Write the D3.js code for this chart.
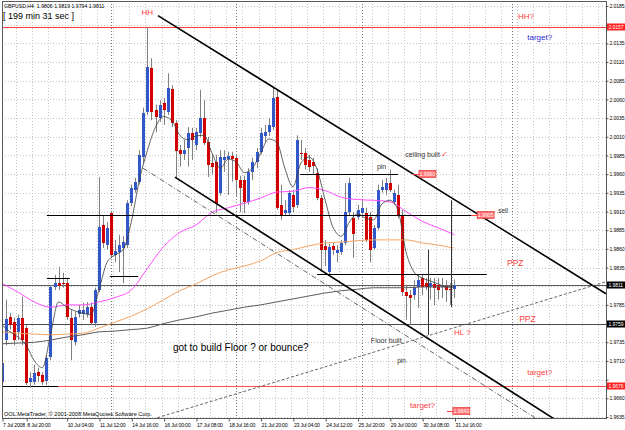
<!DOCTYPE html>
<html lang="en">
<head>
<meta charset="utf-8">
<title>GBPUSD,H4</title>
<script src="https://d3js.org/d3.v7.min.js"></script>
<style>
  body { margin: 0; background: #fff; }
  svg { display: block; font-family: "Liberation Sans", Arial, sans-serif; }
</style>
</head>
<body>
<svg id="chart"></svg>
<script>
// H4 bars, oldest first
const opens = [1.9681,1.9738,1.9769,1.9762,1.9749,1.9768,1.9754,1.9681,1.9682,1.9695,1.9691,1.9683,1.9715,1.9809,1.9814,1.9814,1.9814,1.9768,1.9735,1.9772,
  1.9773,1.9772,1.9782,1.9761,1.9805,1.9892,1.9865,1.9908,1.9852,1.9855,1.9861,1.9865,1.9921,1.9939,1.9950,1.9983,2.0043,2.0102,2.0046,2.0035,
  2.0055,2.0043,2.0074,2.0028,1.9992,1.9986,1.9995,2.0015,1.9999,2.0015,2.0035,2.0003,1.9975,1.9976,1.9935,1.9979,1.9980,1.9984,1.9982,1.9952,
  1.9952,1.9923,1.9963,1.9976,1.9990,2.0010,2.0016,2.0023,2.0063,1.9919,1.9908,1.9908,1.9932,1.9919,1.9988,1.9988,1.9979,1.9976,1.9962,1.9928,
  1.9864,1.9829,1.9864,1.9855,1.9856,1.9868,1.9909,1.9901,1.9903,1.9908,1.9908,1.9903,1.9861,1.9888,1.9939,1.9939,1.9948,1.9923,1.9932,1.9905,
  1.9802,1.9798,1.9798,1.9809,1.9821,1.9814,1.9809,1.9813,1.9812,1.9808,1.9810,1.9806,1.9806];
const highs = [1.9711,1.9792,1.9774,1.9768,1.9772,1.9796,1.9758,1.9695,1.9705,1.9701,1.9695,1.9718,1.9812,1.9825,1.9836,1.9828,1.9821,1.9778,1.9776,1.9785,
  1.9788,1.9789,1.9788,1.9808,1.9956,1.9905,1.9896,1.9909,1.9872,1.9879,1.9877,1.9925,1.9946,1.9955,1.9992,2.0049,2.0157,2.0115,2.0053,2.0059,
  2.0062,2.0095,2.0079,2.0032,1.9999,2.0006,2.0023,2.0022,2.0022,2.0073,2.0059,2.0010,1.9986,1.9986,1.9992,1.9992,1.9990,1.9990,1.9986,1.9958,
  1.9958,1.9968,1.9982,1.9995,2.0022,2.0026,2.0035,2.0077,2.0073,1.9946,1.9925,1.9939,1.9939,2.0012,2.0006,1.9995,1.9986,1.9982,1.9968,1.9932,
  1.9872,1.9867,1.9868,1.9865,1.9872,1.9948,1.9955,1.9909,1.9919,1.9925,1.9915,1.9909,1.9892,1.9946,1.9952,1.9955,1.9966,1.9939,1.9946,1.9912,
  1.9812,1.9805,1.9818,1.9825,1.9825,1.9821,1.9821,1.9821,1.9821,1.9821,1.9818,1.9814,1.9819];
const lows = [1.9678,1.9731,1.9752,1.9731,1.9738,1.9731,1.9678,1.9674,1.9678,1.9682,1.9678,1.9678,1.9711,1.9805,1.9805,1.9808,1.9765,1.9711,1.9731,1.9768,
  1.9765,1.9768,1.9758,1.9756,1.9802,1.9861,1.9859,1.9848,1.9842,1.9829,1.9814,1.9861,1.9917,1.9935,1.9946,1.9975,2.0039,2.0032,2.0016,2.0030,
  2.0026,2.0039,2.0023,1.9955,1.9970,1.9979,1.9970,1.9979,1.9992,2.0010,1.9999,1.9956,1.9959,1.9908,1.9931,1.9963,1.9932,1.9950,1.9931,1.9909,
  1.9908,1.9919,1.9952,1.9968,1.9986,2.0003,2.0011,2.0019,1.9912,1.9899,1.9905,1.9905,1.9909,1.9915,1.9979,1.9966,1.9963,1.9959,1.9925,1.9829,
  1.9837,1.9826,1.9852,1.9842,1.9852,1.9865,1.9905,1.9848,1.9899,1.9905,1.9869,1.9842,1.9859,1.9885,1.9935,1.9932,1.9936,1.9919,1.9901,1.9797,
  1.9765,1.9758,1.9792,1.9781,1.9798,1.9805,1.9792,1.9785,1.9792,1.9794,1.9789,1.9785,1.9794];
const closes = [1.9707,1.9766,1.9758,1.9738,1.9768,1.9738,1.9681,1.9687,1.9694,1.9689,1.9681,1.9714,1.9809,1.9814,1.9810,1.9812,1.9768,1.9738,1.9769,1.9778,
  1.9778,1.9782,1.9761,1.9805,1.9889,1.9868,1.9888,1.9852,1.9857,1.9865,1.9869,1.9921,1.9941,1.9950,1.9986,2.0042,2.0103,2.0043,2.0037,2.0053,
  2.0046,2.0075,2.0028,1.9990,1.9986,1.9992,2.0015,2.0006,2.0016,2.0035,2.0002,1.9972,1.9970,1.9920,1.9983,1.9983,1.9984,1.9980,1.9952,1.9941,
  1.9923,1.9963,1.9976,1.9990,2.0015,2.0016,2.0026,2.0062,1.9915,1.9905,1.9912,1.9935,1.9916,2.0006,1.9986,1.9972,1.9970,1.9970,1.9928,1.9859,
  1.9859,1.9863,1.9859,1.9859,1.9868,1.9909,1.9948,1.9879,1.9912,1.9915,1.9872,1.9859,1.9888,1.9939,1.9943,1.9948,1.9939,1.9935,1.9905,1.9802,
  1.9796,1.9794,1.9809,1.9818,1.9809,1.9809,1.9814,1.9808,1.9805,1.9810,1.9804,1.9805,1.9811];

// moving averages, sampled along the bars
const fastMA = [1.9758,1.9749,1.9742,1.9731,1.9710,1.9701,1.9745,1.9789,1.9782,1.9777,1.9774,1.9772,1.9805,1.9842,1.9852,1.9859,1.9896,1.9952,1.9992,
  2.0023,2.0037,2.0032,2.0012,2.0006,2.0011,2.0012,1.9988,1.9968,1.9980,1.9976,1.9962,1.9968,1.9988,2.0007,2.0003,1.9968,1.9943,1.9975,1.9983,
  1.9966,1.9925,1.9888,1.9877,1.9896,1.9907,1.9901,1.9899,1.9920,1.9925,1.9912,1.9856,1.9829,1.9821,1.9817,1.9813,1.9809,1.9809]; // every 2 bars
const ma50 = [1.9814,1.9802,1.9789,1.9782,1.9785,1.9785,1.9789,1.9795,1.9805,1.9834,1.9863,1.9882,1.9892,1.9909,1.9915,1.9921,1.9928,1.9936,1.9937,
  1.9942,1.9938,1.9929,1.9926,1.9925,1.9923,1.9910,1.9897,1.9888,1.9879]; // every 4 bars
const ma100 = [1.9749,1.9747,1.9746,1.9745,1.9746,1.9747,1.9754,1.9762,1.9770,1.9780,1.9792,1.9804,1.9813,1.9824,1.9832,1.9837,1.9844,1.9855,1.9859,
  1.9864,1.9868,1.9869,1.9871,1.9872,1.9872,1.9872,1.9868,1.9865,1.9861];
const ma200 = [1.9733,1.9734,1.9735,1.9738,1.9742,1.9745,1.9749,1.9750,1.9752,1.9754,1.9760,1.9765,1.9769,1.9774,1.9778,1.9782,1.9785,1.9789,1.9793,
  1.9797,1.9801,1.9804,1.9806,1.9808,1.9808,1.9808,1.9809,1.9809,1.9809];

const timeTickBars = [0, 6, 16, 24, 32, 40, 48, 56, 64, 72, 80, 88, 96, 104, 112];
const timeTickLabels = ['7 Jul 2008', '8 Jul 20:00', '10 Jul 04:00', '11 Jul 12:00', '14 Jul 16:00', '16 Jul 00:00', '17 Jul 08:00',
  '18 Jul 16:00', '21 Jul 20:00', '23 Jul 04:00', '24 Jul 12:00', '25 Jul 20:00', '29 Jul 00:00', '30 Jul 08:00', '31 Jul 16:00'];
const priceTicks = [2.0185, 2.0160, 2.0135, 2.0110, 2.0085, 2.0060, 2.0035, 2.0010, 1.9985, 1.9960, 1.9935, 1.9910,
  1.9885, 1.9860, 1.9835, 1.9810, 1.9785, 1.9760, 1.9735, 1.9710, 1.9685, 1.9660, 1.9635];
const weekStarts = [27, 58, 89, 126.25];

// drawn objects: horizontal levels [price, first bar, last bar]
const hhLevel = 2.0157;
const bidLevel = 1.9811;
const floorLevel = 1.9759;
const lowLevel = 1.9676;
const sellLevel = [1.9905, 11.1, 116.3];
const pinTopLevel = [1.9960, 73.8, 98];
const boxBottomLevel = [1.9826, 78, 120];
const shortLevels = [[1.9821, 11.1, 16.8], [1.9824, 26.7, 33.7]];
// trend lines [bar, price] -> [bar, price]
const upperChannel = [[38.6, 2.0172], [149.5, 1.9800]];
const lowerChannel = [[42.8, 1.9956], [140, 1.9621]];
const dashDotChannel = [[34.9, 1.9968], [136, 1.9620]];
const risingLine = [[38.4, 1.9634], [149.5, 1.9816]];
const markers = [[105.4, 1.9859, 1.9745], [111.1, 1.9925, 1.9782]];

const width = 625, height = 430;
const plotLeft = 2, plotRight = 606, plotTop = 1, plotBottom = 418;
const axisFont = '"Liberation Sans", Arial, sans-serif';

const svg = d3.select('#chart').attr('width', width).attr('height', height);

const x = d3.scaleLinear().domain([0, 149.5]).range([plotLeft, plotRight]);
const y = d3.scaleLinear().domain([1.96337, 2.0193]).range([plotBottom, 0]);
const px = v => Math.round(v) + 0.5;
const fmt = d3.format('.4f');

svg.append('defs').append('clipPath').attr('id', 'plot-clip')
  .append('rect')
  .attr('x', plotLeft).attr('y', plotTop)
  .attr('width', plotRight - plotLeft).attr('height', plotBottom - plotTop);

const plot = svg.append('g').attr('clip-path', 'url(#plot-clip)');

// grid
plot.append('g').selectAll('line')
  .data(priceTicks)
  .join('line')
  .attr('x1', plotLeft).attr('x2', plotRight)
  .attr('y1', d => px(y(d))).attr('y2', d => px(y(d)))
  .attr('stroke', '#c4c4c4').attr('stroke-dasharray', '1,2');

plot.append('g').selectAll('line')
  .data(d3.range(-0.5, 150, 4))
  .join('line')
  .attr('x1', d => px(x(d))).attr('x2', d => px(x(d)))
  .attr('y1', plotTop).attr('y2', plotBottom)
  .attr('stroke', '#c4c4c4').attr('stroke-dasharray', '1,2');

plot.append('g').selectAll('line')
  .data(weekStarts)
  .join('line')
  .attr('x1', d => px(x(d))).attr('x2', d => px(x(d)))
  .attr('y1', plotTop).attr('y2', plotBottom)
  .attr('stroke', '#777').attr('stroke-dasharray', '1,2');

// full width levels
const fullLevel = (p, color, from) => plot.append('line')
  .attr('x1', from === undefined ? plotLeft : x(from)).attr('x2', plotRight)
  .attr('y1', px(y(p))).attr('y2', px(y(p)))
  .attr('stroke', color);

fullLevel(hhLevel, '#ff3b3b');
fullLevel(bidLevel, '#5a5a5a');
fullLevel(floorLevel, '#4a4a4a');
fullLevel(lowLevel, '#ff4d4d', 13.9);
plot.append('line')
  .attr('x1', plotLeft).attr('x2', x(13.9))
  .attr('y1', px(y(lowLevel))).attr('y2', px(y(lowLevel)))
  .attr('stroke', '#000');

// candles
const bars = opens.map((o, i) => ({ i, o, h: highs[i], l: lows[i], c: closes[i] }));

plot.append('g').selectAll('line')
  .data(bars)
  .join('line')
  .attr('x1', d => px(x(d.i))).attr('x2', d => px(x(d.i)))
  .attr('y1', d => y(d.h)).attr('y2', d => y(d.l))
  .attr('stroke', '#808080');

plot.append('g').selectAll('rect')
  .data(bars)
  .join('rect')
  .attr('x', d => Math.round(x(d.i)) - 1)
  .attr('width', 3)
  .attr('y', d => Math.round(y(Math.max(d.o, d.c))))
  .attr('height', d => Math.max(1, Math.round(Math.abs(y(d.o) - y(d.c)))))
  .attr('fill', d => d.c >= d.o ? '#3157c8' : '#d40000');

// moving averages
const maLine = (values, step, color, w) => plot.append('path')
  .datum(values)
  .attr('fill', 'none')
  .attr('stroke', color)
  .attr('stroke-width', w)
  .attr('d', d3.line()
    .x((d, i) => x(i * step))
    .y(d => y(d))
    .curve(d3.curveMonotoneX));

maLine(ma200, 4, '#5c5c5c', 1);
maLine(ma100, 4, '#f5a563', 1);
maLine(ma50, 4, '#ff4dff', 1);
maLine(fastMA, 2, '#3c3c3c', 0.8);

// drawn objects
const segment = (lvl, color) => plot.append('line')
  .attr('x1', x(lvl[1])).attr('x2', x(lvl[2]))
  .attr('y1', px(y(lvl[0]))).attr('y2', px(y(lvl[0])))
  .attr('stroke', color);

segment(sellLevel, '#000');
segment(pinTopLevel, '#000');
segment(boxBottomLevel, '#000');
shortLevels.forEach(l => segment(l, '#000'));

const trend = (pts, color, w, dash) => plot.append('line')
  .attr('x1', x(pts[0][0])).attr('y1', y(pts[0][1]))
  .attr('x2', x(pts[1][0])).attr('y2', y(pts[1][1]))
  .attr('stroke', color)
  .attr('stroke-width', w)
  .attr('stroke-dasharray', dash || null);

trend(upperChannel, '#000', 1.6);
trend(lowerChannel, '#000', 1.6);
trend(dashDotChannel, '#555', 0.9, '5,2,1,2');
trend(risingLine, '#555', 0.9, '3,2');

plot.append('g').selectAll('line')
  .data(markers)
  .join('line')
  .attr('x1', d => px(x(d[0]))).attr('x2', d => px(x(d[0])))
  .attr('y1', d => y(d[1])).attr('y2', d => y(d[2]))
  .attr('stroke', '#333');

// price tags inside the chart
const tag = (bar, p) => {
  const cx = x(bar), cy = Math.round(y(p));
  plot.append('line')
    .attr('x1', cx - 6).attr('x2', cx).attr('y1', cy + 0.5).attr('y2', cy + 0.5)
    .attr('stroke', '#ff3b3b');
  plot.append('rect')
    .attr('x', cx).attr('y', cy - 3.5).attr('width', 17).attr('height', 7)
    .attr('fill', '#ff7272').attr('stroke', '#e02020').attr('stroke-width', 0.6);
  plot.append('text')
    .attr('x', cx + 8.5).attr('y', cy + 2)
    .attr('text-anchor', 'middle')
    .attr('font-size', 5.2).attr('fill', '#fff')
    .text(fmt(p));
};
tag(103.2, 1.9960);
tag(117.6, 1.9905);
tag(111.6, 1.9643);

// annotations
const note = (t, bar, p, color, size) => plot.append('text')
  .attr('x', x(bar)).attr('y', y(p))
  .attr('font-size', size).attr('fill', color)
  .text(t);

const red = '#ff3b3b';
note('HH', 34.5, 2.0173, red, 8);
note('HH?', 127.7, 2.0168, red, 8);
note('target?', 130, 2.0139, '#2b2bd6', 8);
note('ceiling built', 99.8, 1.9983, '#333', 7);
note('\u2713', 108.6, 1.9983, red, 7.5);
note('pin', 92.8, 1.9967, '#333', 7);
note('sell', 122.8, 1.9908, '#333', 6.5);
note('PPZ', 125, 1.9837, red, 8.5);
note('PPZ', 128, 1.9762, red, 8.5);
note('HL ?', 111.9, 1.9745, red, 8);
note('Floor built', 91.3, 1.9734, '#333', 7);
note('pin', 97.8, 1.9707, '#333', 6.5);
note('target?', 130, 1.9691, red, 8);
note('target?', 101, 1.9647, red, 8);
note('got to build Floor ? or bounce?', 42.3, 1.9723, '#000', 10);

// frame
svg.append('rect')
  .attr('x', plotLeft + 0.5).attr('y', plotTop + 0.5)
  .attr('width', plotRight - plotLeft).attr('height', plotBottom - plotTop)
  .attr('fill', 'none').attr('stroke', '#5a5a5a');

// levels that carry a value box on the price scale
const boxed = [hhLevel, bidLevel, floorLevel, lowLevel];

// axes
svg.append('g')
  .attr('transform', `translate(${plotRight + 0.5},0)`)
  .call(d3.axisRight(y).tickValues(priceTicks).tickFormat(fmt).tickSize(2).tickPadding(1))
  .call(g => g.select('.domain').remove())
  .call(g => g.selectAll('line').attr('stroke', '#555'))
  .call(g => g.selectAll('.tick')
    .filter(d => boxed.some(b => Math.abs(y(b) - y(d)) < 7))
    .select('text').remove())
  .call(g => g.selectAll('text').attr('font-size', 5.1).attr('letter-spacing', -0.1)
    .attr('font-family', axisFont).attr('fill', '#000'));

svg.append('g')
  .attr('transform', `translate(0,${plotBottom + 0.5})`)
  .call(d3.axisBottom(x).tickValues(timeTickBars).tickFormat((d, i) => timeTickLabels[i]).tickSize(3).tickPadding(2))
  .call(g => g.select('.domain').remove())
  .call(g => g.selectAll('line').attr('stroke', '#555').attr('transform', 'translate(0.5,0)'))
  .call(g => g.selectAll('text').attr('font-size', 5.2).attr('letter-spacing', -0.2)
    .attr('text-anchor', 'start').attr('dx', 0.5)
    .attr('font-family', axisFont).attr('fill', '#000'));

// value boxes on the price scale
const axisBox = (p, fill) => {
  const cy = Math.round(y(p));
  svg.append('rect')
    .attr('x', plotRight + 1).attr('y', cy - 3.5).attr('width', 19).attr('height', 7)
    .attr('fill', fill);
  svg.append('text')
    .attr('x', plotRight + 2.5).attr('y', cy + 2)
    .attr('font-size', 5.1).attr('letter-spacing', -0.1).attr('fill', '#fff')
    .text(fmt(p));
};
axisBox(hhLevel, '#ff2020');
axisBox(bidLevel, '#000');
axisBox(floorLevel, '#000');
axisBox(lowLevel, '#ff2020');

// header
const last = bars[bars.length - 1];
svg.append('text')
  .attr('x', 4).attr('y', 7.5)
  .attr('font-size', 5.2).attr('fill', '#000')
  .attr('xml:space', 'preserve')
  .text(`GBPUSD,H4  ${fmt(last.o)} ${fmt(last.h)} ${fmt(last.l)} ${fmt(last.c)}`);

svg.append('text')
  .attr('x', 3).attr('y', 19)
  .attr('font-size', 9).attr('fill', '#000')
  .text('[ 199 min 31 sec ]');

svg.append('text')
  .attr('x', 4).attr('y', 416)
  .attr('font-size', 5.6).attr('fill', '#000')
  .text('OOL MetaTrader, \u00a9 2001-2008 MetaQuotes Software Corp.');
</script>
</body>
</html>
